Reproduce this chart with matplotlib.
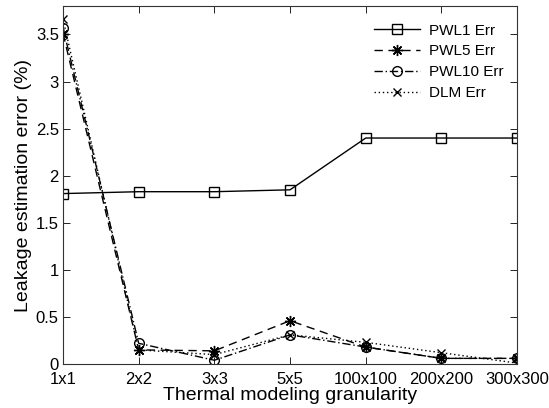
import matplotlib.pyplot as plt

plt.rcParams['font.family'] = ['Liberation Sans', 'DejaVu Sans']

labels = ["1x1", "2x2", "3x3", "5x5", "100x100", "200x200", "300x300"]
pwl1 = [1.81, 1.83, 1.83, 1.85, 2.40, 2.40, 2.40]
pwl5 = [3.51, 0.15, 0.14, 0.46, 0.18, 0.06, 0.06]
pwl10 = [3.57, 0.22, 0.04, 0.31, 0.18, 0.06, 0.06]
dlm = [3.66, 0.15, 0.10, 0.31, 0.23, 0.12, 0.01]

x = list(range(len(labels)))

fig = plt.figure(figsize=(5.49, 4.08), dpi=100)
ax = fig.add_axes([0.1148, 0.1078, 0.827, 0.877])

ax.plot(x, pwl1, color="black", lw=1.0, marker="s", ms=6.5, mfc="none", mew=1.0, label="PWL1 Err")
ax.plot(x, pwl5, color="black", lw=1.0, ls=(0, (6, 4)), marker=(8, 2, 0), ms=8, mfc="none", mew=1.0, label="PWL5 Err")
ax.plot(x, pwl10, color="black", lw=1.0, ls=(0, (6, 2, 1, 2)), marker="o", ms=7, mfc="none", mew=1.0, label="PWL10 Err")
ax.plot(x, dlm, color="black", lw=1.0, ls=(0, (1, 2)), marker="x", ms=6, mfc="none", mew=1.0, label="DLM Err")

ax.set_xlim(0, 6)
ax.set_ylim(0, 3.8)
ax.set_xticks(x)
ax.set_xticklabels(labels)
ax.set_yticks([0, 0.5, 1, 1.5, 2, 2.5, 3, 3.5])
ax.set_yticklabels(["0", "0.5", "1", "1.5", "2", "2.5", "3", "3.5"])
ax.tick_params(direction="in", top=True, right=True, labelsize=12, length=5, width=0.6)
ax.tick_params(axis="x", pad=6)
ax.tick_params(axis="y", pad=3)
for s in ax.spines.values():
    s.set_linewidth(0.8)
    s.set_color("#333333")

ax.set_xlabel("Thermal modeling granularity", fontsize=14, labelpad=0)
ax.set_ylabel("Leakage estimation error (%)", fontsize=14, labelpad=3)

ax.legend(loc="upper right", frameon=False, fontsize=11, handlelength=3.0,
          handletextpad=0.6, labelspacing=0.45, bbox_to_anchor=(1.0, 0.99))

plt.savefig("out.png", dpi=100)
